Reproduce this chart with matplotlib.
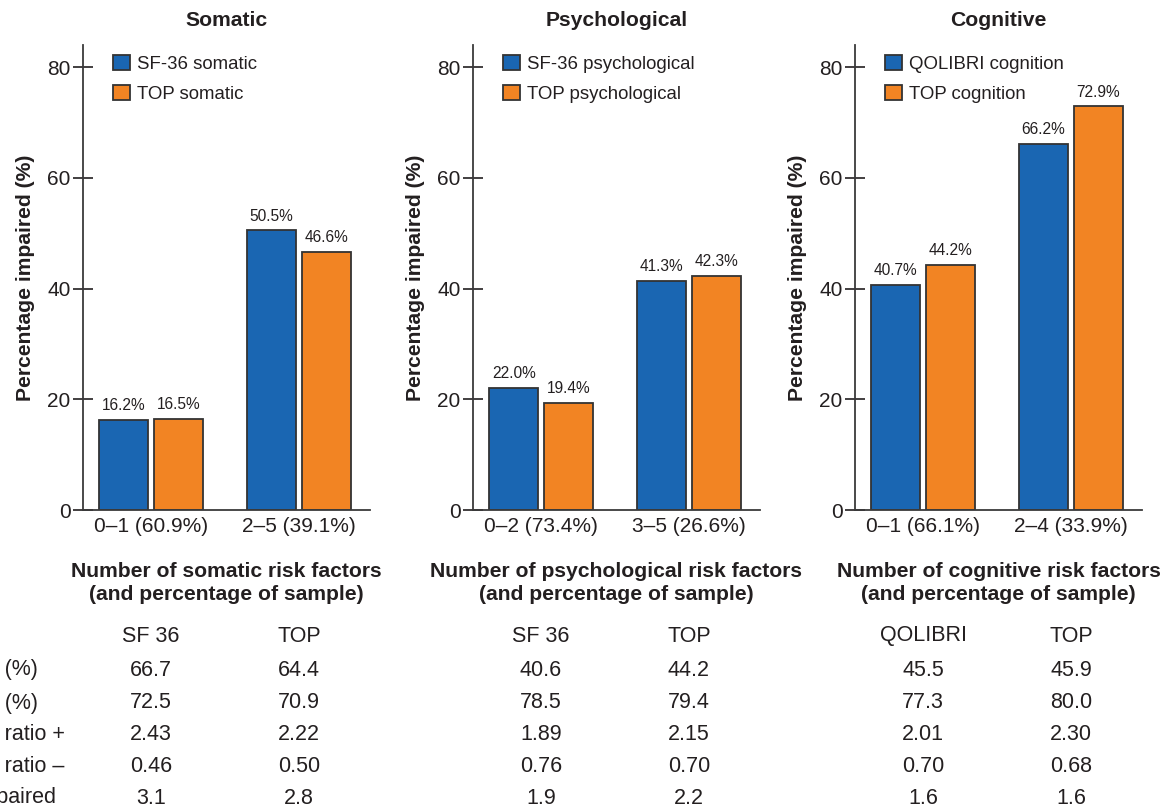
import matplotlib
matplotlib.use("Agg")
import matplotlib.pyplot as plt
from matplotlib.transforms import blended_transform_factory

plt.rcParams['font.family'] = ['Liberation Sans', 'DejaVu Sans']
TXT = '#231f20'
BLUE = '#1a66b2'
ORANGE = '#f28423'
EDGE = '#333333'

# ---- data ----
titles = ["Somatic", "Psychological", "Cognitive"]
categories = [["0\u20131 (60.9%)", "2\u20135 (39.1%)"],
              ["0\u20132 (73.4%)", "3\u20135 (26.6%)"],
              ["0\u20131 (66.1%)", "2\u20134 (33.9%)"]]
series_a_names = ["SF-36 somatic", "SF-36 psychological", "QOLIBRI cognition"]
series_b_names = ["TOP somatic", "TOP psychological", "TOP cognition"]
series_a = [[16.2, 50.5], [22.0, 41.3], [40.7, 66.2]]
series_b = [[16.5, 46.6], [19.4, 42.3], [44.2, 72.9]]
xlabels = ["Number of somatic risk factors\n(and percentage of sample)",
           "Number of psychological risk factors\n(and percentage of sample)",
           "Number of cognitive risk factors\n(and percentage of sample)"]
yticks = [0, 20, 40, 60, 80]

table_headers = [["SF 36", "TOP"], ["SF 36", "TOP"], ["QOLIBRI", "TOP"]]
row_labels = ["Sensitivity (%)", "Specificity (%)", "Likelihood ratio +",
              "Likelihood ratio \u2013", "Risk of impaired"]
table_a = [["66.7", "72.5", "2.43", "0.46", "3.1"],
           ["40.6", "78.5", "1.89", "0.76", "1.9"],
           ["45.5", "77.3", "2.01", "0.70", "1.6"]]
table_b = [["64.4", "70.9", "2.22", "0.50", "2.8"],
           ["44.2", "79.4", "2.15", "0.70", "2.2"],
           ["45.9", "80.0", "2.30", "0.68", "1.6"]]

W, H = 1172, 807
fig = plt.figure(figsize=(W / 100, H / 100), dpi=100)

lefts = [83, 473, 855]
ax_w = 287
ax_bottom_px = 510
ax_top_px = 45
bw = 0.335
gap = 0.035
BOLD = 15.2

def fy(py):
    return 1 - py / H

header_y = 636
row_y = [670, 703, 735, 767, 798]

for i in range(3):
    ax_h = (ax_bottom_px - ax_top_px) / H
    ax_b = 1 - ax_bottom_px / H
    ax = fig.add_axes([lefts[i] / W, ax_b, ax_w / W, ax_h])
    x = [0, 1]
    xa = [v - (bw + gap) / 2 for v in x]
    xb = [v + (bw + gap) / 2 for v in x]
    ba = ax.bar(xa, series_a[i], width=bw, color=BLUE, edgecolor=EDGE,
                linewidth=1.3, label=series_a_names[i])
    bb = ax.bar(xb, series_b[i], width=bw, color=ORANGE, edgecolor=EDGE,
                linewidth=1.3, label=series_b_names[i])
    ax.bar_label(ba, labels=[f"{v:.1f}%" for v in series_a[i]], padding=5,
                 fontsize=11.2, color=TXT)
    ax.bar_label(bb, labels=[f"{v:.1f}%" for v in series_b[i]], padding=5,
                 fontsize=11.2, color=TXT)
    ax.set_xlim(-0.46, 1.48)
    ax.set_ylim(0, 84)
    ax.set_yticks(yticks)
    ax.set_xticks(x)
    ax.set_xticklabels(categories[i], fontsize=15, color=TXT)
    ax.tick_params(axis='x', length=0, pad=5)
    ax.tick_params(axis='y', direction='inout', length=14, width=1.2,
                   labelsize=15, colors=TXT, pad=2)
    for s in ['top', 'right']:
        ax.spines[s].set_visible(False)
    for s in ['left', 'bottom']:
        ax.spines[s].set_color('#3a3a3a')
        ax.spines[s].set_linewidth(1.3)
    ax.set_title(titles[i], fontsize=BOLD, fontweight='bold', color=TXT, pad=0,
                 y=(fy(20) - ax_b) / ax_h, va='center')
    ax.set_ylabel("Percentage impaired (%)", fontsize=BOLD, fontweight='bold',
                  color=TXT, labelpad=9)
    leg = ax.legend(loc='upper left', bbox_to_anchor=(30 / ax_w, 1 - 10 / 465),
                    frameon=False, fontsize=13.4, handlelength=0.9,
                    handleheight=0.9, handletextpad=0.4, labelspacing=0.62,
                    borderaxespad=0, borderpad=0)
    for t in leg.get_texts():
        t.set_color(TXT)

    tr = blended_transform_factory(ax.transData, fig.transFigure)
    ax.text(0.5, fy(583), xlabels[i],
            transform=blended_transform_factory(ax.transAxes, fig.transFigure),
            ha='center', va='center', fontsize=BOLD, fontweight='bold',
            color=TXT, linespacing=1.3)
    ax.text(0, fy(header_y), table_headers[i][0], transform=tr, ha='center',
            va='center', fontsize=15.5, color=TXT)
    ax.text(1, fy(header_y), table_headers[i][1], transform=tr, ha='center',
            va='center', fontsize=15.5, color=TXT)
    for r in range(5):
        ax.text(0, fy(row_y[r]), table_a[i][r], transform=tr, ha='center',
                va='center', fontsize=15.5, color=TXT)
        ax.text(1, fy(row_y[r]), table_b[i][r], transform=tr, ha='center',
                va='center', fontsize=15.5, color=TXT)

for r in range(5):
    fig.text(-98 / W, fy(row_y[r]), row_labels[r], ha='left', va='center',
             fontsize=15.5, color=TXT)

fig.savefig("out.png", dpi=100)
